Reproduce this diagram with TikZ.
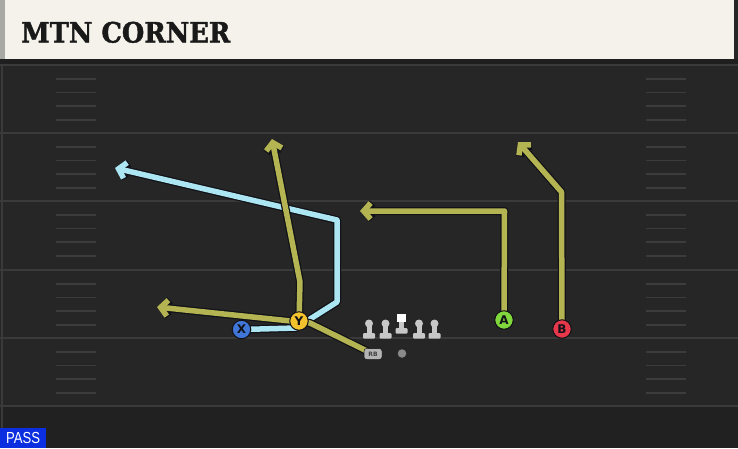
\documentclass[tikz,border=0pt]{standalone}
\usepackage{fontspec}
\setmainfont{DejaVu Sans}
\newfontfamily\titlefont{DejaVu Serif}[BoldFeatures={FakeBold=1.6}]
\newfontfamily\passfont{Liberation Sans}
\usetikzlibrary{arrows.meta}
\definecolor{fieldbg}{HTML}{262626}
\definecolor{fieldlow}{HTML}{212121}
\definecolor{yardcol}{HTML}{3A3A3A}
\definecolor{hashcol}{HTML}{3C3C3C}
\definecolor{cream}{HTML}{F4F2EB}
\definecolor{headgray}{HTML}{A8A8A4}
\definecolor{olivecol}{HTML}{B4B452}
\definecolor{skycol}{HTML}{ABE6F2}
\definecolor{outcol}{HTML}{111118}
\definecolor{ycol}{HTML}{F4C22C}
\definecolor{xcol}{HTML}{3F76D8}
\definecolor{acol}{HTML}{80D83C}
\definecolor{bcol}{HTML}{E6384A}
\definecolor{linecol}{HTML}{C8C8C8}
\definecolor{rbcol}{HTML}{B4B4B4}
\definecolor{qbcol}{HTML}{8A8A8A}
\definecolor{passblue}{HTML}{0B2FE0}
\tikzset{
  yardline/.style={draw=yardcol, line width=2pt},
  hashmark/.style={draw=hashcol, line width=1.5pt},
  routeout/.style={draw=outcol, line width=8pt, line join=round,
     -{Straight Barb[length=7pt,width=16pt,line join=miter]}},
  routeol/.style={draw=olivecol, line width=5.5pt, line join=round,
     -{Straight Barb[length=7pt,width=16pt,line join=miter]}},
  routesky/.style={draw=skycol, line width=5.5pt, line join=round,
     -{Straight Barb[length=7pt,width=16pt,line join=miter]}},
  player/.style={circle, draw=outcol, line width=1pt, minimum size=18.5pt,
     inner sep=0pt, font=\bfseries\fontsize{12}{12}\selectfont, text=outcol},
  lineman/.style={fill=linecol},
}
\newcommand\myroute[2]{\draw[routeout] #2; \draw[#1] #2;}
\begin{document}
\begin{tikzpicture}[x=1pt,y=-1pt]
\useasboundingbox (0,0) rectangle (738,448);
% field
\fill[fieldbg] (0,0) rectangle (738,448);
\fill[fieldlow] (0,406) rectangle (738,448);
\foreach \yy in {65,133,201,270,338,406} \draw[yardline] (0,\yy) -- (738,\yy);
\foreach \yy in {65,133,201,270,338} {
  \foreach \o in {14,27.5,41,55} {
    \draw[hashmark] (56,{\yy+\o}) -- (96,{\yy+\o});
    \draw[hashmark] (646,{\yy+\o}) -- (686,{\yy+\o});
  }
}
\draw[draw=yardcol, line width=2pt] (1.5,64) -- (1.5,448);
% header
\fill[cream] (0,0) rectangle (734,59);
\fill[headgray] (0,0) rectangle (5,59);
\fill[black!88] (0,59) rectangle (738,64);
\node[anchor=base west, inner sep=0pt, font=\titlefont\bfseries\fontsize{28}{28}\selectfont, text=black!90]
  (title) at (21,42.5) {\scalebox{0.92}[1]{MTN CORNER}};
% pass box
\node[anchor=south west, fill=passblue, text=white, minimum width=46pt, minimum height=20pt,
  inner sep=0pt, font=\passfont\fontsize{16}{16}\selectfont] (pass) at (0,448) {\scalebox{0.82}[1]{PASS}};
% coordinates of players
\coordinate (Xc) at (241.5,329.5);
\coordinate (Yc) at (299,321);
\coordinate (Ac) at (504,320);
\coordinate (Bc) at (562,329);
\coordinate (RBc) at (373,354);
% route ends
\coordinate (xend) at (115,168);
\coordinate (yend) at (272,139);
\coordinate (rbend) at (157,307);
\coordinate (aend) at (360,211);
\coordinate (bend) at (518,142);
% routes
\myroute{routesky}{(Xc) -- (296,328) -- (337,302) -- (337,220) -- (xend)}
\myroute{routeol}{(Yc) -- (300,282) -- (yend)}
\myroute{routeol}{(RBc) -- (310,323) -- (rbend)}
\myroute{routeol}{(Ac) -- (504.5,211) -- (aend)}
\myroute{routeol}{(Bc) -- (561.5,192) -- (bend)}
% players
\node[player, fill=xcol] (X) at (Xc) {X};
\node[player, fill=ycol] (Y) at (Yc) {Y};
\node[player, fill=acol] (A) at (Ac) {A};
\node[player, fill=bcol] (B) at (Bc) {B};
% linemen
\foreach \lx/\ly in {369/0, 385.5/0, 419/0, 434.5/0} {
  \fill[lineman] (\lx,{323.5+\ly}) circle (4pt);
  \fill[lineman] ({\lx-2.5},326) rectangle ({\lx+2.5},334);
  \fill[lineman, rounded corners=1pt] ({\lx-6},333) rectangle ({\lx+6},338.5);
}
\node[fill=white, minimum width=9pt, minimum height=8pt, inner sep=0pt] (C) at (401.5,318) {};
\fill[lineman] (399,322) rectangle (404,329);
\fill[lineman, rounded corners=1pt] (395.5,328) rectangle (407.5,333.5);
% backs
\node[fill=rbcol, draw=outcol, line width=0.5pt, minimum width=18pt, minimum height=11pt,
  inner sep=0pt, rounded corners=2.5pt, font=\bfseries\fontsize{6}{6}\selectfont, text=black!75]
  (RB) at (RBc) {RB};
\node[circle, fill=qbcol, minimum size=8.5pt, inner sep=0pt] (QB) at (402,353.5) {};
\end{tikzpicture}
\end{document}
